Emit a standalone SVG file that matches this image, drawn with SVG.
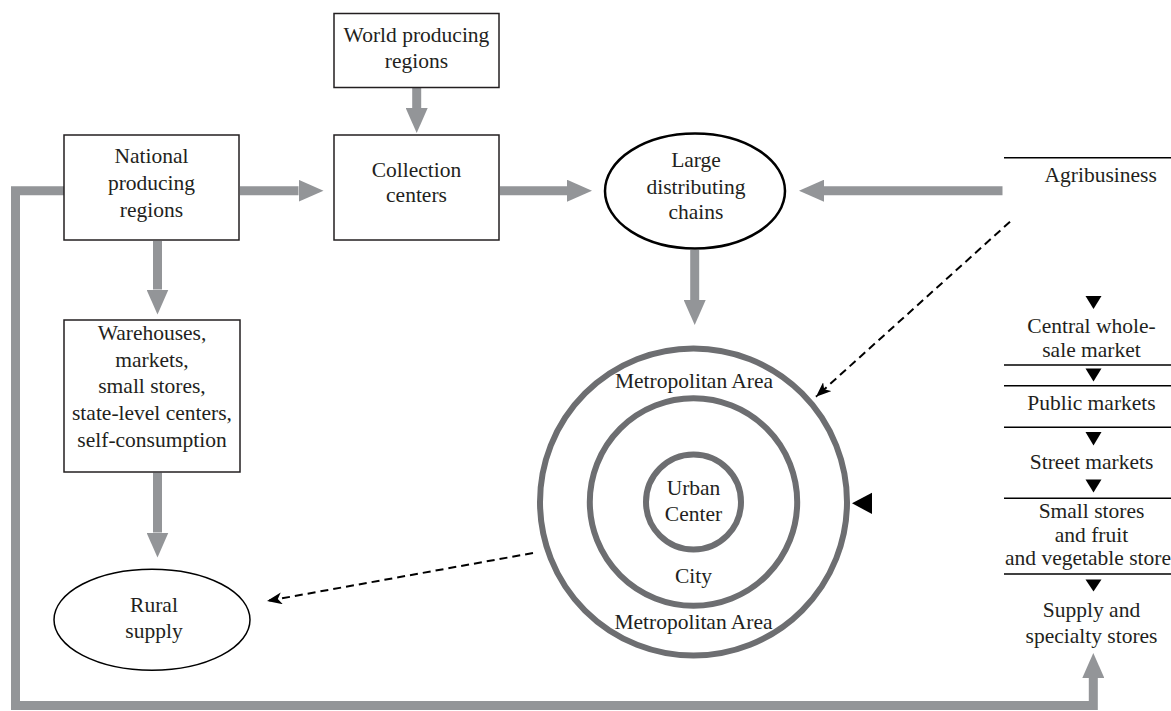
<svg xmlns="http://www.w3.org/2000/svg" width="1171" height="711" viewBox="0 0 1171 711">
<style>
text{font-family:"Liberation Serif","Times New Roman",serif;font-size:21.5px;fill:#231f20;text-anchor:middle}
.box{fill:#fff;stroke:#231f20;stroke-width:1.5}
.ell{fill:#fff;stroke:#000}
.ring{fill:none;stroke:#6d6e71;stroke-width:6}
.flow{fill:none;stroke:#939598;stroke-width:9;stroke-linejoin:miter}
.dash{fill:none;stroke:#000;stroke-width:2;stroke-dasharray:8 5}
.rule{stroke:#000;stroke-width:1.5}
.tri{fill:#000}
</style>
<defs>
<marker id="gh" markerUnits="userSpaceOnUse" markerWidth="25" markerHeight="22" viewBox="0 0 25 22" refX="0" refY="11" orient="auto">
<path d="M0,0 L25,11 L0,22 Z" fill="#939598"/>
</marker>
<marker id="dh" markerUnits="userSpaceOnUse" markerWidth="15" markerHeight="12" viewBox="0 0 15 12" refX="15" refY="6" orient="auto">
<path d="M0,0 L15,6 L0,12 L4,6 Z" fill="#000"/>
</marker>
</defs>

<g id="connectors">
<line class="flow" x1="416.7" y1="88" x2="416.7" y2="108" marker-end="url(#gh)"/>
<line class="flow" x1="240" y1="190.7" x2="298.5" y2="190.7" marker-end="url(#gh)"/>
<line class="flow" x1="500" y1="190.7" x2="567" y2="190.7" marker-end="url(#gh)"/>
<line class="flow" x1="1002.5" y1="190.7" x2="824" y2="190.7" marker-end="url(#gh)"/>
<line class="flow" x1="694.7" y1="250" x2="694.7" y2="300" marker-end="url(#gh)"/>
<line class="flow" x1="157.5" y1="241" x2="157.5" y2="289.5" marker-end="url(#gh)"/>
<line class="flow" x1="157.5" y1="472.7" x2="157.5" y2="532.5" marker-end="url(#gh)"/>
<path class="flow" d="M64,190.7 H15.5 V705.5 H1093.3 V678" marker-end="url(#gh)"/>
<line class="dash" x1="1010" y1="221.7" x2="816" y2="396.7" marker-end="url(#dh)"/>
<line class="dash" x1="533" y1="553" x2="267" y2="601" marker-end="url(#dh)"/>
</g>

<g id="world">
<rect class="box" x="334" y="13.5" width="165" height="74"/>
<text x="416.5" y="41.7">World producing</text>
<text x="416.5" y="68.3">regions</text>
</g>

<g id="national">
<rect class="box" x="64" y="135" width="175" height="105"/>
<text x="151.5" y="163.3">National</text>
<text x="151.5" y="190">producing</text>
<text x="151.5" y="216.5">regions</text>
</g>

<g id="collection">
<rect class="box" x="334" y="135" width="165" height="105"/>
<text x="416.5" y="176.7">Collection</text>
<text x="416.5" y="201.7">centers</text>
</g>

<g id="large-chains">
<ellipse class="ell" cx="695" cy="191" rx="90" ry="57.5" stroke-width="2.5"/>
<text x="696" y="166.7">Large</text>
<text x="696" y="194.3">distributing</text>
<text x="696" y="219">chains</text>
</g>

<g id="warehouses">
<rect class="box" x="64" y="320" width="176" height="152"/>
<text x="152" y="340">Warehouses,</text>
<text x="152" y="366.7">markets,</text>
<text x="152" y="393.3">small stores,</text>
<text x="152" y="420">state-level centers,</text>
<text x="152" y="446.7">self-consumption</text>
</g>

<g id="rural">
<ellipse class="ell" cx="152" cy="619.7" rx="98" ry="50.5" stroke-width="1.5"/>
<text x="154" y="611.7">Rural</text>
<text x="154" y="638">supply</text>
</g>

<g id="metro">
<circle class="ring" cx="693.5" cy="502" r="153.5"/>
<circle class="ring" cx="693.5" cy="502" r="103.7"/>
<circle class="ring" cx="693.5" cy="502" r="47.5"/>
<text x="694" y="387.5">Metropolitan Area</text>
<text x="693.5" y="495">Urban</text>
<text x="693.5" y="520.7">Center</text>
<text x="693.5" y="583.3">City</text>
<text x="693.5" y="629.3">Metropolitan Area</text>
<polygon class="tri" points="852,503.3 872,492.7 872,514"/>
</g>

<g id="agribusiness">
<line class="rule" x1="1004" y1="157.7" x2="1171" y2="157.7"/>
<text x="1100.7" y="181.7">Agribusiness</text>
</g>

<g id="retail-chain">
<polygon class="tri" points="1085.5,296 1101.5,296 1093.5,309"/>
<text x="1091.5" y="333.3">Central whole-</text>
<text x="1091.5" y="357.3">sale market</text>
<line class="rule" x1="1004" y1="365" x2="1171" y2="365"/>
<polygon class="tri" points="1085.5,368.5 1101.5,368.5 1093.5,381.5"/>
<line class="rule" x1="1004" y1="385.7" x2="1171" y2="385.7"/>
<text x="1091.5" y="410">Public markets</text>
<line class="rule" x1="1004" y1="427.3" x2="1171" y2="427.3"/>
<polygon class="tri" points="1085.5,432 1101.5,432 1093.5,445.5"/>
<text x="1091.5" y="469.3">Street markets</text>
<polygon class="tri" points="1085.5,479.5 1101.5,479.5 1093.5,492.5"/>
<line class="rule" x1="1004" y1="498.3" x2="1171" y2="498.3"/>
<text x="1091.5" y="518.3">Small stores</text>
<text x="1091.5" y="541.7">and fruit</text>
<text x="1088" y="565">and vegetable store</text>
<line class="rule" x1="1004" y1="574" x2="1171" y2="574"/>
<polygon class="tri" points="1085.5,579.5 1101.5,579.5 1093.5,591.5"/>
<text x="1091.5" y="616.7">Supply and</text>
<text x="1091.5" y="642.7">specialty stores</text>
</g>
</svg>
